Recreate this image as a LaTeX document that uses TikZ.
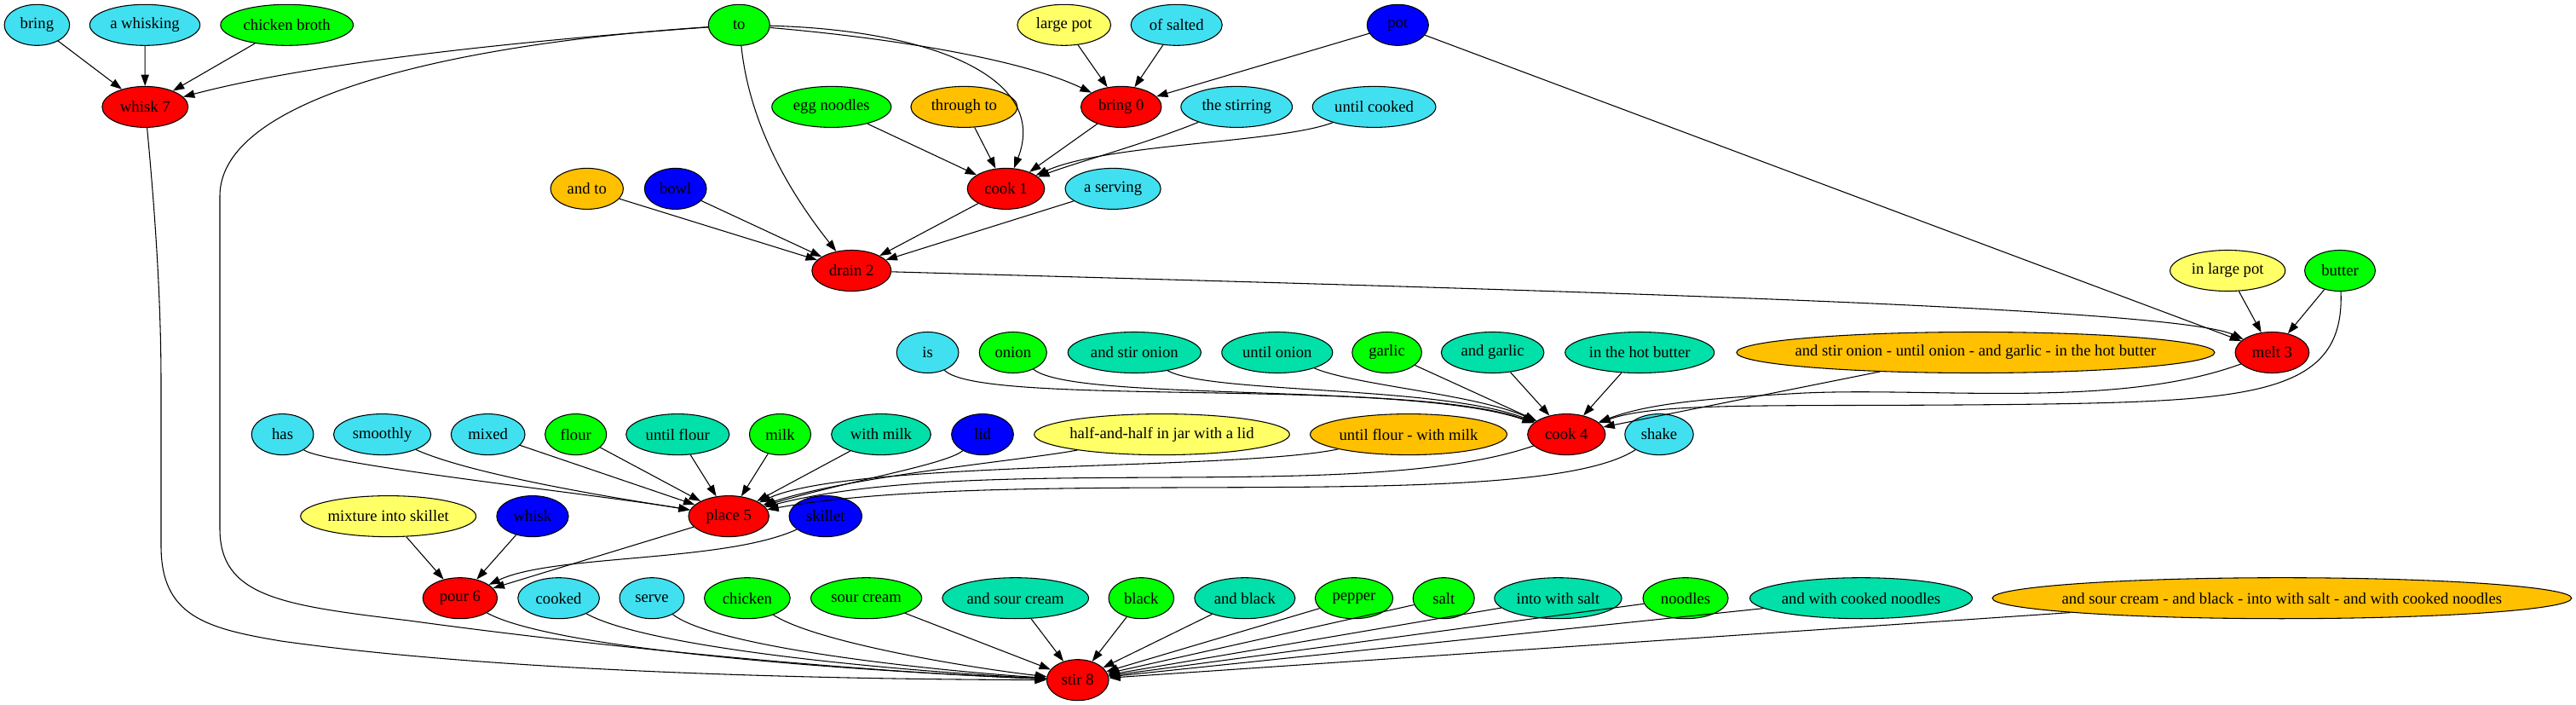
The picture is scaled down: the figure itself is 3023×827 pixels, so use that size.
\documentclass[tikz,border=0pt]{standalone}
\usepackage{fontspec}
\setmainfont{Liberation Serif}
\usetikzlibrary{arrows.meta,shapes.geometric}
\definecolor{cy}{HTML}{40E0F0}
\definecolor{gr}{HTML}{00FF00}
\definecolor{og}{HTML}{FFC000}
\definecolor{ye}{HTML}{FFFF66}
\definecolor{tl}{HTML}{00E0A8}
\definecolor{bl}{HTML}{0000FF}
\definecolor{rd}{HTML}{FF0000}
\newcommand\lb[1]{\makebox[0pt]{#1}}
\begin{document}
\begin{tikzpicture}[x=0.7497pt,y=-0.7497pt,
  base/.style={ellipse, draw, line width=0.8pt, minimum height=36pt, inner sep=0pt, font=\fontsize{14}{16}\selectfont},
  nc/.style={base, fill=cy}, ng/.style={base, fill=gr}, no/.style={base, fill=og},
  ny/.style={base, fill=ye}, nt/.style={base, fill=tl}, nb/.style={base, fill=bl},
  nr/.style={base, fill=rd},
  arr/.style={-{Triangle[length=10pt,width=7pt]}, line width=0.8pt}]
\useasboundingbox (0,0) rectangle (3023,827);
% row 0
\node[nc, minimum width=57.4pt] (bring) at (43.4,29.3) {\lb{bring}};
\node[nc, minimum width=97pt] (awhisking) at (170,29.3) {\lb{a whisking}};
\node[ng, minimum width=116.7pt] (chickenbroth) at (336.7,29.3) {\lb{chicken broth}};
\node[ng, minimum width=54pt] (to) at (867.3,29.3) {\lb{to}};
\node[ny, minimum width=82.2pt] (largepot) at (1248.7,29.3) {\lb{large pot}};
\node[nc, minimum width=80.3pt] (ofsalted) at (1380.7,29.3) {\lb{of salted}};
\node[nb, minimum width=54pt] (pot) at (1640.3,29.3) {\lb{pot}};
% row 1
\node[nr, minimum width=75.6pt] (whisk7) at (170.3,125.4) {\lb{whisk 7}};
\node[ng, minimum width=105pt] (eggnoodles) at (975.8,125.4) {\lb{egg noodles}};
\node[no, minimum width=93.7pt] (throughto) at (1131.4,125.4) {\lb{through to}};
\node[nr, minimum width=70.8pt] (bring0) at (1315.7,125.4) {\lb{bring 0}};
\node[nc, minimum width=98pt] (thestirring) at (1451.2,125.4) {\lb{the stirring}};
\node[nc, minimum width=108.5pt] (untilcooked) at (1612.6,125.4) {\lb{until cooked}};
% row 2
\node[no, minimum width=64pt] (andto) at (688.8,221.4) {\lb{and to}};
\node[nb, minimum width=54.5pt] (bowl) at (792.7,221.4) {\lb{bowl}};
\node[nr, minimum width=67.9pt] (cook1) at (1180.5,221.4) {\lb{cook 1}};
\node[nc, minimum width=84.1pt] (aserving) at (1306.1,221.4) {\lb{a serving}};
% row 3
\node[nr, minimum width=69.7pt] (drain2) at (999.3,317.5) {\lb{drain 2}};
\node[ny, minimum width=101.3pt] (inlargepot) at (2614.2,317.5) {\lb{in large pot}};
\node[ng, minimum width=62.1pt] (butter) at (2746,317.5) {\lb{butter}};
% row 4
\node[nc, minimum width=54.5pt] (is) at (1088.6,413.5) {\lb{is}};
\node[ng, minimum width=59.3pt] (onion) at (1188.8,413.5) {\lb{onion}};
\node[nt, minimum width=117pt] (andstironion) at (1331.3,413.5) {\lb{and stir onion}};
\node[nt, minimum width=97.5pt] (untilonion) at (1498.8,413.5) {\lb{until onion}};
\node[ng, minimum width=61.2pt] (garlic) at (1627.6,413.5) {\lb{garlic}};
\node[nt, minimum width=90.4pt] (andgarlic) at (1751.6,413.5) {\lb{and garlic}};
\node[nt, minimum width=131.2pt] (inthehotbutter) at (1924.2,413.5) {\lb{in the hot butter}};
\node[no, minimum width=420.6pt] (longa) at (2318.4,413.5) {\lb{and stir onion - until onion - and garlic - in the hot butter}};
\node[nr, minimum width=65pt] (melt3) at (2666.4,413.5) {\lb{melt 3}};
% row 5
\node[nc, minimum width=54.5pt] (has) at (331.6,509.6) {\lb{has}};
\node[nc, minimum width=85.6pt] (smoothly) at (448.6,509.6) {\lb{smoothly}};
\node[nc, minimum width=65pt] (mixed) at (572.7,509.6) {\lb{mixed}};
\node[ng, minimum width=54pt] (flour) at (675.7,509.6) {\lb{flour}};
\node[nt, minimum width=90.8pt] (untilflour) at (795.3,509.6) {\lb{until flour}};
\node[ng, minimum width=54pt] (milk) at (915.5,509.6) {\lb{milk}};
\node[nt, minimum width=87.5pt] (withmilk) at (1034,509.6) {\lb{with milk}};
\node[nb, minimum width=54.5pt] (lid) at (1153,509.6) {\lb{lid}};
\node[ny, minimum width=224.7pt] (halfandhalf) at (1363.5,509.6) {\lb{half-and-half in jar with a lid}};
\node[no, minimum width=173.1pt] (untilflourwithmilk) at (1653,509.6) {\lb{until flour - with milk}};
\node[nr, minimum width=68.4pt] (cook4) at (1838.3,509.6) {\lb{cook 4}};
\node[nc, minimum width=60.3pt] (shake) at (1947,509.6) {\lb{shake}};
% row 6
\node[ny, minimum width=154.4pt] (mixture) at (455.7,605.6) {\lb{mixture into skillet}};
\node[nb, minimum width=63.1pt] (whisk) at (625,605.6) {\lb{whisk}};
\node[nr, minimum width=70.8pt] (place5) at (855.2,605.6) {\lb{place 5}};
\node[nb, minimum width=64.1pt] (skillet) at (968.8,605.6) {\lb{skillet}};
% row 7
\node[nr, minimum width=65.5pt] (pour6) at (539.9,701.7) {\lb{pour 6}};
\node[nc, minimum width=71.7pt] (cooked) at (655.6,701.7) {\lb{cooked}};
\node[nc, minimum width=56.9pt] (serve) at (765,701.7) {\lb{serve}};
\node[ng, minimum width=75.5pt] (chicken) at (876.9,701.7) {\lb{chicken}};
\node[ng, minimum width=97.5pt] (sourcream) at (1016.6,701.7) {\lb{sour cream}};
\node[nt, minimum width=128.6pt] (andsourcream) at (1191.7,701.7) {\lb{and sour cream}};
\node[ng, minimum width=57.4pt] (black) at (1339.3,701.7) {\lb{black}};
\node[nt, minimum width=88.5pt] (andblack) at (1460.8,701.7) {\lb{and black}};
\node[ng, minimum width=68.4pt] (pepper) at (1589,701.7) {\lb{pepper}};
\node[ng, minimum width=54pt] (salt) at (1694.2,701.7) {\lb{salt}};
\node[nt, minimum width=111.9pt] (intowithsalt) at (1828.4,701.7) {\lb{into with salt}};
\node[ng, minimum width=75pt] (noodles) at (1978,701.7) {\lb{noodles}};
\node[nt, minimum width=195.7pt] (andwithcookednoodles) at (2184,701.7) {\lb{and with cooked noodles}};
\node[no, minimum width=509.6pt] (longb) at (2677.9,701.7) {\lb{and sour cream - and black - into with salt - and with cooked noodles}};
% row 8
\node[nr, minimum width=54.5pt] (stir8) at (1264.7,797.7) {\lb{stir 8}};
% edges
\draw[arr] (bring) -- (whisk7);
\draw[arr] (awhisking) -- (whisk7);
\draw[arr] (chickenbroth) -- (whisk7);
\draw[arr] (to) .. controls (650,45) and (380,70) .. (whisk7);
\draw[arr] (to) .. controls (550,50) and (258,110) .. (258,230) -- (258,620) .. controls (258,700) and (330,710) .. (480,728) .. controls (750,765) and (1050,790) .. (stir8);
\draw[arr] (whisk7) .. controls (182,250) and (189,350) .. (189,450) -- (189,640) .. controls (189,722) and (240,737) .. (330,752) .. controls (600,790) and (1000,797) .. (stir8);
\draw[arr] (to) .. controls (1050,45) and (1200,70) .. (bring0);
\draw[arr] (to) .. controls (1090,35) and (1232,90) .. (cook1);
\draw[arr] (to) .. controls (880,150) and (930,230) .. (drain2);
\draw[arr] (largepot) -- (bring0);
\draw[arr] (ofsalted) -- (bring0);
\draw[arr] (pot) -- (bring0);
\draw[arr] (pot) -- (melt3);
\draw[arr] (eggnoodles) -- (cook1);
\draw[arr] (throughto) -- (cook1);
\draw[arr] (bring0) -- (cook1);
\draw[arr] (thestirring) .. controls (1340,170) and (1265,190) .. (cook1);
\draw[arr] (untilcooked) .. controls (1500,168) and (1300,168) .. (cook1);
\draw[arr] (cook1) -- (drain2);
\draw[arr] (aserving) -- (drain2);
\draw[arr] (andto) -- (drain2);
\draw[arr] (bowl) -- (drain2);
\draw[arr] (drain2) .. controls (1800,340) and (2550,360) .. (melt3);
\draw[arr] (inlargepot) -- (melt3);
\draw[arr] (butter) -- (melt3);
\draw[arr] (butter) .. controls (2752,460) and (2650,470) .. (2400,474) .. controls (2100,478) and (1950,470) .. (cook4);
\draw[arr] (melt3) .. controls (2480,482) and (2250,452) .. (2100,462) .. controls (1990,468) and (1930,475) .. (cook4);
\draw[arr] (longa) -- (cook4);
\draw[arr] (inthehotbutter) -- (cook4);
\draw[arr] (andgarlic) -- (cook4);
\draw[arr] (garlic) -- (cook4);
\draw[arr] (untilonion) .. controls (1590,452) and (1730,462) .. (cook4);
\draw[arr] (andstironion) .. controls (1420,462) and (1690,452) .. (cook4);
\draw[arr] (onion) .. controls (1260,472) and (1660,448) .. (cook4);
\draw[arr] (is) .. controls (1150,478) and (1650,442) .. (cook4);
\draw[arr] (has) .. controls (380,545) and (700,580) .. (place5);
\draw[arr] (smoothly) .. controls (560,560) and (760,590) .. (place5);
\draw[arr] (mixed) -- (place5);
\draw[arr] (flour) -- (place5);
\draw[arr] (untilflour) -- (place5);
\draw[arr] (milk) -- (place5);
\draw[arr] (withmilk) -- (place5);
\draw[arr] (lid) .. controls (1110,545) and (1000,563) .. (place5);
\draw[arr] (halfandhalf) .. controls (1200,540) and (1000,558) .. (place5);
\draw[arr] (untilflourwithmilk) .. controls (1450,552) and (1000,540) .. (place5);
\draw[arr] (cook4) .. controls (1600,592) and (1150,530) .. (place5);
\draw[arr] (shake) .. controls (1800,605) and (1200,545) .. (place5);
\draw[arr] (mixture) -- (pour6);
\draw[arr] (whisk) -- (pour6);
\draw[arr] (place5) -- (pour6);
\draw[arr] (skillet) .. controls (850,660) and (650,650) .. (pour6);
\draw[arr] (pour6) .. controls (650,762) and (1000,787) .. (stir8);
\draw[arr] (cooked) .. controls (760,760) and (1050,787) .. (stir8);
\draw[arr] (serve) .. controls (840,760) and (1100,787) .. (stir8);
\draw[arr] (chicken) .. controls (960,755) and (1150,785) .. (stir8);
\draw[arr] (sourcream) -- (stir8);
\draw[arr] (andsourcream) -- (stir8);
\draw[arr] (black) -- (stir8);
\draw[arr] (andblack) -- (stir8);
\draw[arr] (pepper) -- (stir8);
\draw[arr] (salt) -- (stir8);
\draw[arr] (intowithsalt) -- (stir8);
\draw[arr] (noodles) -- (stir8);
\draw[arr] (andwithcookednoodles) -- (stir8);
\draw[arr] (longb) -- (stir8);
\end{tikzpicture}
\end{document}
